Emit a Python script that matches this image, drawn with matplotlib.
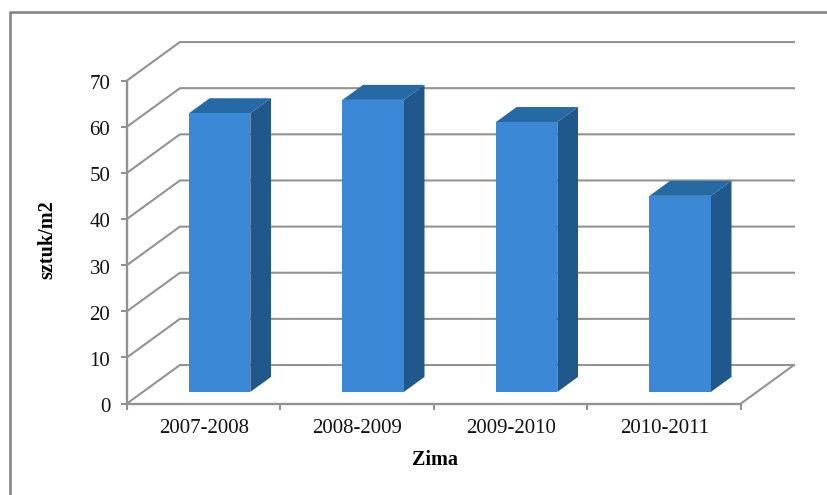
import matplotlib.pyplot as plt
from matplotlib.lines import Line2D
from matplotlib.transforms import ScaledTranslation

plt.rcParams['font.family'] = ['Liberation Serif', 'DejaVu Serif']

zimy = ['2007-2008', '2008-2009', '2009-2010', '2010-2011']
sztuk = [60.4, 63.3, 58.5, 42.5]
y_ticks = [0, 10, 20, 30, 40, 50, 60, 70]

# oblique 3d look: how far the back wall is shifted, in data units
dx = 0.345
dy = 8.34
bar_w = 0.40
bar_d0 = 0.30   # depth where the bar starts
bar_d = 0.39    # depth of the bar

c_grid = '#939393'
c_front = '#3a88d6'
c_side = '#20588b'
c_top = '#2569a5'


def pr(x, y, d):
    return x + d * dx, y + d * dy


fig = plt.figure(figsize=(8.28, 4.95), dpi=100)
W, H = 828, 495
ax = fig.add_axes([127 / W, 1 - 403.5 / H, (795 - 127) / W, (403.5 - 42) / H])
ax.set_xlim(0, (795 - 127) / 153.5)
ax.set_ylim(0, (403.5 - 42) / 4.614)
ax.patch.set_alpha(0)

# outer frame, only top and left are in the crop
fig.add_artist(Line2D([9.5 / W, 9.5 / W, 1], [0, 1 - 11.5 / H, 1 - 11.5 / H], color='#868686', lw=1.9))

# gridlines on side wall and back wall
n = len(zimy)
for v in y_ticks:
    x0, y0 = pr(0, v, 1)
    x1, y1 = pr(n, v, 1)
    ax.plot([0, x0, x1], [v, y0, y1], color=c_grid, lw=1.5, zorder=1, clip_on=False)
# floor right edge
xr, yr = pr(n, 0, 1)
ax.plot([n, xr], [0, yr], color=c_grid, lw=1.5, zorder=1, clip_on=False)

# bars
for i, val in enumerate(sztuk):
    l = i + (1 - bar_w) / 2
    r = l + bar_w
    a = bar_d0
    b = bar_d0 + bar_d
    front = [pr(l, 0, a), pr(r, 0, a), pr(r, val, a), pr(l, val, a)]
    side = [pr(r, 0, a), pr(r, 0, b), pr(r, val, b), pr(r, val, a)]
    top = [pr(l, val, a), pr(r, val, a), pr(r, val, b), pr(l, val, b)]
    ax.fill(*zip(*side), color=c_side, lw=0, zorder=3)
    ax.fill(*zip(*top), color=c_top, lw=0, zorder=3)
    ax.fill(*zip(*front), color=c_front, lw=0, zorder=4)

# axes
for s in ['top', 'right']:
    ax.spines[s].set_visible(False)
for s in ['left', 'bottom']:
    ax.spines[s].set_color(c_grid)
    ax.spines[s].set_linewidth(1.7)
ax.spines['left'].set_bounds(0, 70)
ax.spines['bottom'].set_bounds(0, n)

ax.set_yticks(y_ticks)
ax.set_xticks(range(n + 1))
ax.set_xticklabels([])
ax.set_xticks([i + 0.5 for i in range(n)], labels=zimy, minor=True)
ax.tick_params(axis='both', which='major', color=c_grid, width=1.5, length=4, labelsize=15, labelcolor='#111111')
ax.tick_params(axis='y', pad=8)
ax.tick_params(axis='x', which='minor', length=0, labelsize=15, labelcolor='#111111', pad=11)

# tick labels sit a bit lower in the reference
for lab in ax.get_yticklabels():
    lab.set_transform(lab.get_transform() + ScaledTranslation(0, -1.5 / 100, fig.dpi_scale_trans))

fig.text(47 / W, 1 - 240 / H, 'sztuk/m2', rotation=90, ha='center', va='center', fontsize=14.5, fontweight='bold')
fig.text(435 / W, 1 - 460 / H, 'Zima', ha='center', va='center', fontsize=14.5, fontweight='bold')

fig.savefig('out.png', dpi=100)
